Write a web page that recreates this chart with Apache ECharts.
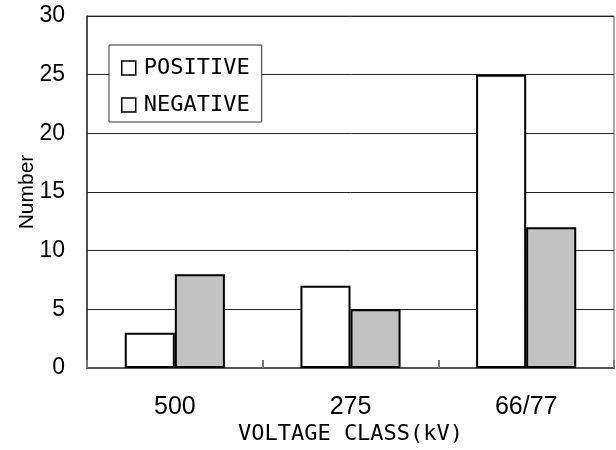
<!DOCTYPE html>
<html>
<head>
<meta charset="utf-8">
<script src="https://cdn.jsdelivr.net/npm/echarts@6/dist/echarts.min.js"></script>
<style>html,body{margin:0;padding:0;background:#fff}#c{width:616px;height:450px}</style>
</head>
<body>
<div id="c"></div>
<script>
const categories = ['500', '275', '66/77'];
const positiveValues = [3, 7, 25];
const negativeValues = [8, 5, 12];
const seriesNames = ['POSITIVE', 'NEGATIVE'];
const yTicks = [0, 5, 10, 15, 20, 25, 30];

const chart = echarts.init(document.getElementById('c'), null, {renderer: 'canvas'});
const monoFont = '"DejaVu Sans Mono", monospace';
const sansFont = '"Liberation Sans", Arial, sans-serif';
chart.setOption({
  animation: false,
  backgroundColor: '#fff',
  grid: {left: 87, right: 2, top: 16, bottom: 82, show: true, borderColor: '#555', borderWidth: 1,
         containLabel: false, outerBoundsMode: 'none'},
  legend: {
    orient: 'vertical', left: 109, top: 45,
    data: seriesNames.map(n => ({name: n, icon: 'rect', itemStyle: {color: '#fff', borderColor: '#000', borderWidth: 1.5}})),
    itemWidth: 14, itemHeight: 14, itemGap: 15,
    padding: [12, 12, 6, 12],
    backgroundColor: '#fff', borderColor: '#333', borderWidth: 1, borderRadius: 0,
    textStyle: {fontFamily: monoFont, fontSize: 22, color: '#000', lineHeight: 20, padding: [0, 0, 0, 3]}
  },
  xAxis: {
    type: 'category', data: categories,
    name: 'VOLTAGE CLASS(kV)', nameLocation: 'middle', nameGap: 55, nameMoveOverlap: false,
    nameTextStyle: {fontFamily: monoFont, fontSize: 22, color: '#000'},
    axisLine: {lineStyle: {color: '#555', width: 2}},
    axisTick: {show: true, inside: true, length: 8, lineStyle: {color: '#777', width: 2}},
    axisLabel: {fontFamily: sansFont, fontSize: 25, color: '#000', margin: 27}
  },
  yAxis: {
    type: 'value', min: yTicks[0], max: yTicks[yTicks.length - 1], interval: yTicks[1] - yTicks[0],
    name: 'Number', nameLocation: 'middle', nameGap: 49, nameMoveOverlap: false,
    nameTextStyle: {fontFamily: sansFont, fontSize: 21, color: '#000'},
    axisLine: {show: true, lineStyle: {color: '#333', width: 1.5}},
    axisTick: {show: false},
    splitLine: {lineStyle: {color: '#222', width: 1}},
    axisLabel: {fontFamily: sansFont, fontSize: 23, color: '#000', margin: 22}
  },
  series: [
    {name: seriesNames[0], type: 'bar', data: positiveValues, barGap: '0%', barCategoryGap: '43%',
     itemStyle: {color: '#fff', borderColor: '#000', borderWidth: 2}},
    {name: seriesNames[1], type: 'bar', data: negativeValues, barGap: '0%', barCategoryGap: '43%',
     itemStyle: {color: '#c2c2c2', borderColor: '#000', borderWidth: 2}}
  ]
});
</script>
</body>
</html>
